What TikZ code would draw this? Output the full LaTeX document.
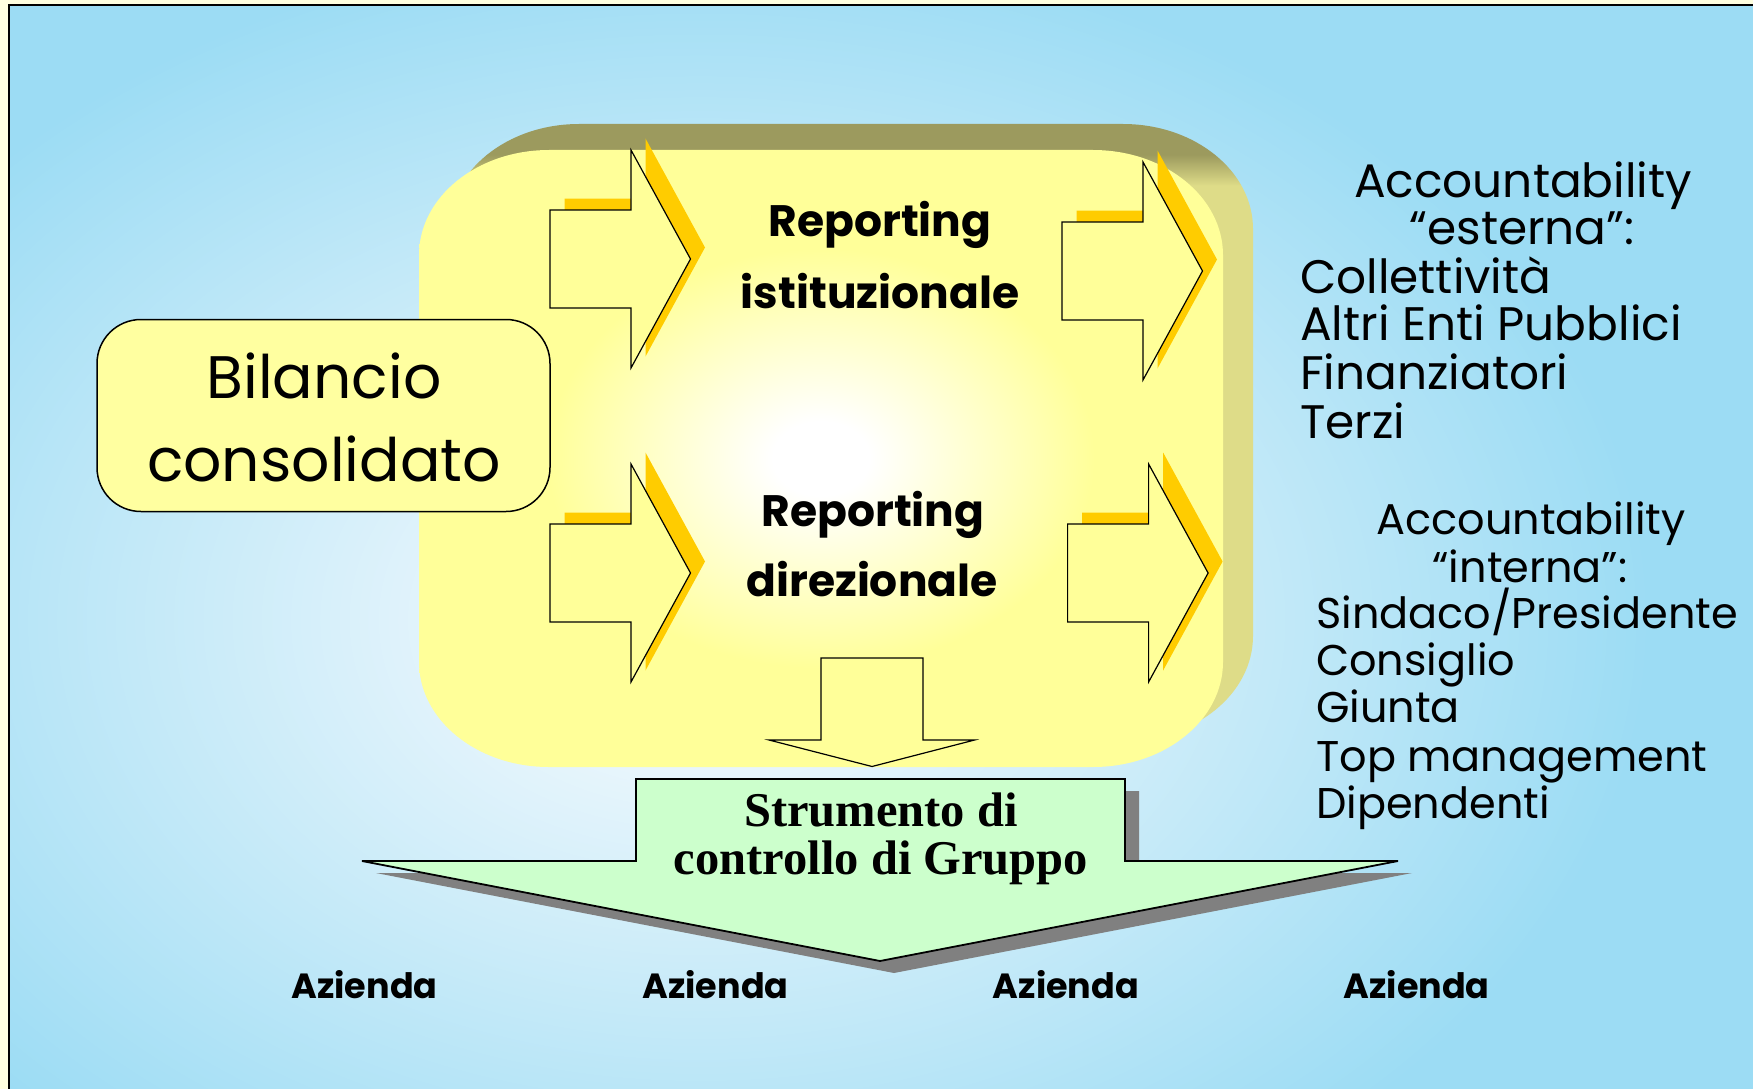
\documentclass[tikz,border=0pt]{standalone}
\usepackage{fontspec}
\setmainfont{Poppins}
\newfontfamily\timesf{Liberation Serif}
\definecolor{cream}{HTML}{FFFFE0}
\definecolor{bgblue}{HTML}{9CDCF4}
\definecolor{bglight}{HTML}{EAF6FC}
\definecolor{faceY}{HTML}{FFFF99}
\definecolor{exdark}{HTML}{9C9A5E}
\definecolor{exlight}{HTML}{DEDC88}
\definecolor{gold}{HTML}{FFCC00}
\definecolor{mint}{HTML}{CCFFCC}
\definecolor{shgray}{HTML}{808080}
\definecolor{bilY}{HTML}{FFFFA0}
\pgfdeclareradialshading{bgsh}{\pgfpoint{0bp}{0bp}}{color(0bp)=(bglight); color(5bp)=(bglight); color(25bp)=(bgblue); color(50bp)=(bgblue)}
\pgfdeclareradialshading{facesh}{\pgfpoint{0bp}{0bp}}{color(0bp)=(white); color(3bp)=(white); color(17bp)=(faceY); color(50bp)=(faceY)}
\pgfdeclareverticalshading{extsh}{100bp}{color(0bp)=(exlight); color(25bp)=(exlight); color(70bp)=(exlight); color(72.5bp)=(exdark); color(100bp)=(exdark)}
\newcommand\facepath{(419,255) arc[start angle=180,end angle=270,x radius=130,y radius=105] -- (1093,150) arc[start angle=270,end angle=360,x radius=130,y radius=105] -- (1223,662) arc[start angle=0,end angle=90,x radius=130,y radius=105] -- (549,767) arc[start angle=90,end angle=180,x radius=130,y radius=105] -- cycle}
\newcommand\rarrowpath{(0,-49) -- (81,-49) -- (81,-109) -- (140.5,0) -- (81,109) -- (81,49) -- (0,49) -- cycle}
\newcommand\greenpath{(636,779) -- (1125,779) -- (1125,861) -- (1398,861) -- (880,961) -- (362,861) -- (636,861) -- cycle}
\newcommand\rfont{\fontsize{44}{48}\selectfont\bfseries}
\newcommand\afont{\fontsize{35}{40}\selectfont\bfseries}
\newcommand\accfonta{\fontsize{47}{52}\selectfont}
\newcommand\accfontb{\fontsize{43}{48}\selectfont}
\newcommand\bilfont{\fontsize{60}{70}\selectfont}
\newcommand\strfont{\fontsize{48.5}{52}\selectfont\timesf\bfseries}
\tikzset{
  txt/.style={inner sep=0pt, anchor=base},
  ltxt/.style={inner sep=0pt, anchor=base west},
  blockarrow/.style={fill=faceY, draw=black, line width=1.2pt, line join=miter},
}
\begin{document}
\begin{tikzpicture}[x=1pt,y=-1pt]
\useasboundingbox (0,0) rectangle (1753,1089);
% page background
\fill[cream] (0,0) rectangle (1753,1089);
\begin{scope}
  \clip (9,5.3) rectangle (1753,1089);
  \fill[bgblue] (9,5.3) rectangle (1753,1089);
  \shade[shading=bgsh] (700,620) ellipse [x radius=950, y radius=680];
\end{scope}
\draw[line width=1.6pt] (9,1089) -- (9,5.3) -- (1753,5.3);
% 3D yellow panel
\begin{scope}[shift={(30,-26)}]
  \shade[shading=extsh] \facepath;
\end{scope}
\shade[shading=facesh] \facepath;
% right-pointing block arrows
\foreach \ax/\ay in {550/259, 1062/271, 550/573, 1067.6/573}{
  \begin{scope}[shift={(\ax,\ay)}]
    \fill[gold, shift={(14.5,-11.5)}] \rarrowpath;
    \path[blockarrow] \rarrowpath;
  \end{scope}
}
% Bilancio consolidato box
\node[draw, fill=bilY, rounded corners=44pt, minimum width=453pt, minimum height=192pt, line width=1.5pt, inner sep=0pt] (bil) at (323.5,415.5) {};
\node[txt, font=\bilfont] (bil1) at (324,398) {Bilancio};
\node[txt, font=\bilfont] (bil2) at (324,481) {consolidato};
% down arrow
\path[blockarrow] (821,658) -- (923,658) -- (923,740) -- (974.6,740) -- (872,766.5) -- (769,740) -- (821,740) -- cycle;
% green arrow
\fill[shgray, shift={(14,12)}] \greenpath;
\filldraw[fill=mint, draw=black, line width=1.8pt, line join=miter] \greenpath;
% texts
\node[txt, font=\rfont] (rep1) at (880,236) {Reporting};
\node[txt, font=\rfont] (ist) at (880,308) {istituzionale};
\node[txt, font=\rfont] (rep2) at (873,526) {Reporting};
\node[txt, font=\rfont] (dir) at (872,596) {direzionale};
\node[txt, font=\strfont] (str1) at (881,826) {Strumento di};
\node[txt, font=\strfont] (str2) at (881,874) {controllo di Gruppo};
\node[txt, font=\afont] (az1) at (364.5,998) {Azienda};
\node[txt, font=\afont] (az2) at (715.5,998) {Azienda};
\node[txt, font=\afont] (az3) at (1066,998) {Azienda};
\node[txt, font=\afont] (az4) at (1416.6,998) {Azienda};
% accountability esterna
\node[txt, font=\accfonta] (ae1) at (1523,197) {Accountability};
\node[txt, font=\accfonta] (ae2) at (1522,244) {“esterna”:};
\node[ltxt, font=\accfonta] (ae3) at (1300,293) {Collettività};
\node[ltxt, font=\accfonta] (ae4) at (1300,340) {Altri Enti Pubblici};
\node[ltxt, font=\accfonta] (ae5) at (1300,389) {Finanziatori};
\node[ltxt, font=\accfonta] (ae6) at (1300,438) {Terzi};
% accountability interna
\node[txt, font=\accfontb] (ai1) at (1531,534) {Accountability};
\node[txt, font=\accfontb] (ai2) at (1530,582) {“interna”:};
\node[ltxt, font=\accfontb] (ai3) at (1316,628) {Sindaco/Presidente};
\node[ltxt, font=\accfontb] (ai4) at (1316,675) {Consiglio};
\node[ltxt, font=\accfontb] (ai5) at (1316,722) {Giunta};
\node[ltxt, font=\accfontb] (ai6) at (1316,771) {Top management};
\node[ltxt, font=\accfontb] (ai7) at (1316,818) {Dipendenti};
\end{tikzpicture}
\end{document}
